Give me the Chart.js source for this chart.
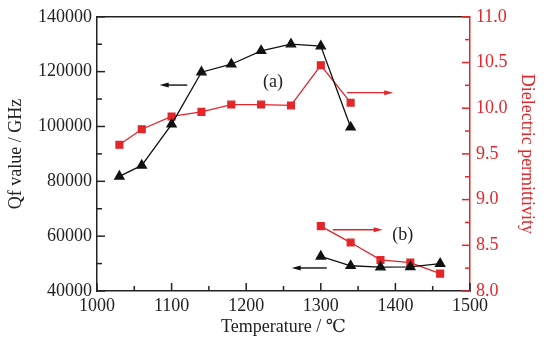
<!DOCTYPE html>
<html>
<head>
<meta charset="utf-8">
<script src="https://cdn.jsdelivr.net/npm/chart.js@4/dist/chart.umd.min.js"></script>
<style>
  html, body { margin: 0; padding: 0; background: #fff; }
  #wrap { width: 548px; height: 349px; }
</style>
</head>
<body>
<div id="wrap"><canvas id="chart" width="548" height="349"></canvas></div>
<script>
// Sintering temperature (°C) for both sample groups
const tempA = [1030, 1060, 1100, 1140, 1180, 1220, 1260, 1300, 1340];
const tempB = [1300, 1340, 1380, 1420, 1460];

// Qf value (GHz), left axis
const qfA = [81800, 85800, 100800, 119800, 122700, 127600, 130000, 129300, 99700];
const qfB = [52600, 49200, 48700, 48800, 50000];

// Dielectric permittivity, right axis
const epsA = [9.60, 9.77, 9.91, 9.96, 10.04, 10.04, 10.03, 10.47, 10.06];
const epsB = [8.71, 8.53, 8.34, 8.31, 8.19];

// Annotation arrows in data units: [x from, x to (head), y, axis, colour]
const arrows = [
    [1121, 1084, 115100, 'y', '#111'],
    [1335, 1397, 10.17, 'y2', '#e3262a'],
    [1316, 1383, 8.67, 'y2', '#e3262a'],
    [1308, 1261, 48400, 'y', '#111']
];
const labels = [['(a)', 1236, 116200, 'y'], ['(b)', 1410, 8.61, 'y2']];

const RED = '#e3262a';
const BLACK = '#111';
const FONT = "'Liberation Serif', 'DejaVu Serif', serif";

function pts(xs, ys) {
    return xs.map((x, i) => ({ x: x, y: ys[i] }));
}

// Draws inward ticks, the top frame line and the annotations
const decorations = {
    id: 'decorations',
    afterDraw(chart) {
        const ctx = chart.ctx;
        const area = chart.chartArea;
        const sx = chart.scales.x, sy = chart.scales.y, sy2 = chart.scales.y2;
        ctx.save();
        ctx.lineWidth = 1.5;

        // top frame line
        ctx.strokeStyle = '#222';
        ctx.beginPath();
        ctx.moveTo(area.left, area.top);
        ctx.lineTo(area.right, area.top);
        ctx.stroke();

        function inward(scale, color, dir) {
            const vals = scale.ticks.map(t => t.value);
            const step = vals[1] - vals[0];
            ctx.strokeStyle = color;
            for (let i = 0; i < vals.length; i++) {
                const list = [[vals[i], 8]];
                if (i < vals.length - 1) list.push([vals[i] + step / 2, 5]);
                list.forEach(([v, len]) => {
                    const p = scale.getPixelForValue(v);
                    ctx.beginPath();
                    if (dir === 'up') { ctx.moveTo(p, area.bottom); ctx.lineTo(p, area.bottom - len); }
                    if (dir === 'right') { ctx.moveTo(area.left, p); ctx.lineTo(area.left + len, p); }
                    if (dir === 'left') { ctx.moveTo(area.right, p); ctx.lineTo(area.right - len, p); }
                    ctx.stroke();
                });
            }
        }
        inward(sx, '#222', 'up');
        inward(sy, '#222', 'right');
        inward(sy2, RED, 'left');

        // arrows
        arrows.forEach(([x0, x1, yv, ax, col]) => {
            const scaleY = chart.scales[ax];
            const px0 = sx.getPixelForValue(x0), px1 = sx.getPixelForValue(x1);
            const py = scaleY.getPixelForValue(yv);
            const d = Math.sign(px1 - px0);
            ctx.strokeStyle = col;
            ctx.fillStyle = col;
            ctx.lineWidth = 1.4;
            ctx.beginPath();
            ctx.moveTo(px0, py);
            ctx.lineTo(px1 - d * 6, py);
            ctx.stroke();
            ctx.beginPath();
            ctx.moveTo(px1, py);
            ctx.lineTo(px1 - d * 9, py - 2.5);
            ctx.lineTo(px1 - d * 9, py + 2.5);
            ctx.closePath();
            ctx.fill();
        });

        // labels
        ctx.fillStyle = '#222';
        ctx.font = '18px ' + FONT;
        ctx.textAlign = 'center';
        ctx.textBaseline = 'middle';
        labels.forEach(([txt, xv, yv, ax]) => {
            ctx.fillText(txt, sx.getPixelForValue(xv), chart.scales[ax].getPixelForValue(yv));
        });
        ctx.restore();
    }
};

new Chart(document.getElementById('chart'), {
    type: 'line',
    data: {
        datasets: [
            { data: pts(tempA, qfA), yAxisID: 'y', borderColor: BLACK, backgroundColor: BLACK,
              pointStyle: 'triangle', pointRadius: 5.3, borderWidth: 1.3 },
            { data: pts(tempB, qfB), yAxisID: 'y', borderColor: BLACK, backgroundColor: BLACK,
              pointStyle: 'triangle', pointRadius: 5.3, borderWidth: 1.3 },
            { data: pts(tempA, epsA), yAxisID: 'y2', borderColor: RED, backgroundColor: RED,
              pointStyle: 'rect', pointRadius: 4.8, borderWidth: 1.3 },
            { data: pts(tempB, epsB), yAxisID: 'y2', borderColor: RED, backgroundColor: RED,
              pointStyle: 'rect', pointRadius: 4.8, borderWidth: 1.3 }
        ]
    },
    options: {
        responsive: false,
        animation: false,
        layout: { padding: { left: 5, right: 10, top: 14, bottom: 11 } },
        plugins: { legend: { display: false }, tooltip: { enabled: false } },
        elements: { line: { tension: 0 }, point: { borderWidth: 0 } },
        scales: {
            x: {
                type: 'linear', min: 1000, max: 1500,
                ticks: { stepSize: 100, color: '#222', font: { family: FONT, size: 18 }, padding: 4,
                         callback: v => String(v) },
                grid: { drawOnChartArea: false, drawTicks: false },
                border: { color: '#222', width: 1.5 },
                title: { display: true, text: 'Temperature / ℃', color: '#222',
                         font: { family: FONT, size: 18 }, padding: 0 },
                afterFit(s) { s.height = 47; }
            },
            y: {
                position: 'left', min: 40000, max: 140000,
                ticks: { stepSize: 20000, color: '#222', font: { family: FONT, size: 18 }, padding: 5,
                         callback: v => String(v) },
                grid: { drawOnChartArea: false, drawTicks: false },
                border: { color: '#222', width: 1.5 },
                title: { display: true, text: 'Qf value / GHz', color: '#222',
                         font: { family: FONT, size: 18 }, padding: 0 },
                afterFit(s) { s.width = 92; }
            },
            y2: {
                position: 'right', min: 8, max: 11,
                ticks: { stepSize: 0.5, color: RED, font: { family: FONT, size: 18 }, padding: 6,
                         callback: v => v.toFixed(1) },
                grid: { drawOnChartArea: false, drawTicks: false },
                border: { color: RED, width: 1.5 },
                title: { display: true, text: 'Dielectric permittivity', color: RED,
                         font: { family: FONT, size: 18 }, padding: 0 },
                afterFit(s) { s.width = 68; }
            }
        }
    },
    plugins: [decorations]
});
</script>
</body>
</html>
